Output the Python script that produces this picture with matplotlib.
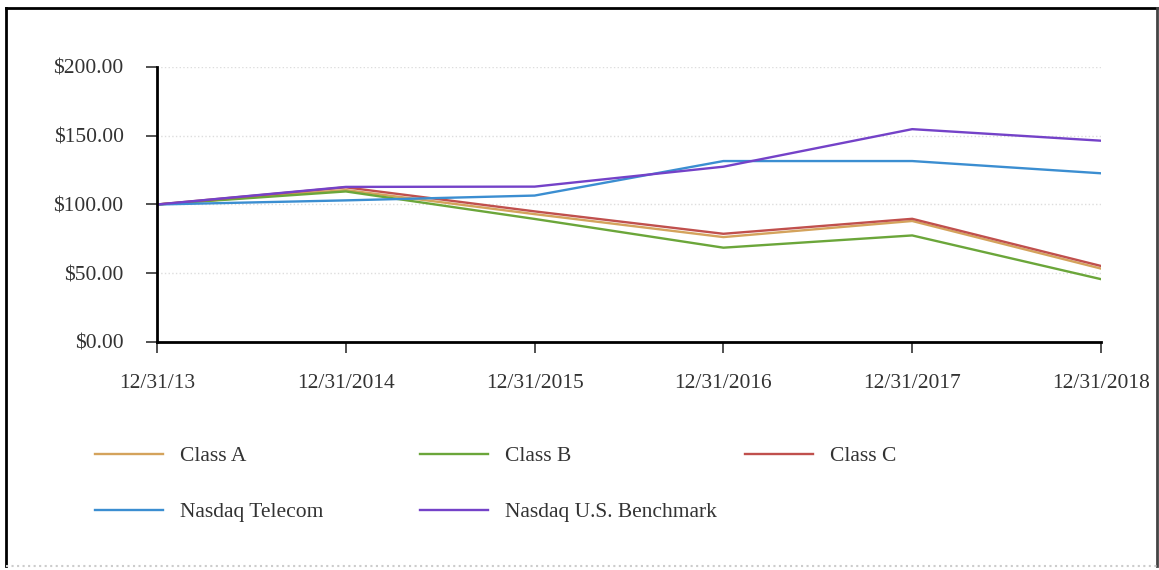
import matplotlib.pyplot as plt
from matplotlib.lines import Line2D

# data
dates = ["12/31/13", "12/31/2014", "12/31/2015", "12/31/2016", "12/31/2017", "12/31/2018"]
class_a = [100, 110.5, 93, 76.3, 88, 53.4]
class_b = [100, 109.5, 89.5, 68.6, 77.5, 45.7]
class_c = [100, 112.5, 95, 78.7, 89.6, 55.3]
telecom = [100, 103, 106.5, 131.6, 131.6, 122.7]
benchmark = [100, 112.8, 113, 127.5, 154.8, 146.4]
yticks = [0, 50, 100, 150, 200]

plt.rcParams['font.family'] = ['Liberation Serif', 'DejaVu Serif']
FS = 15.5

fig = plt.figure(figsize=(11.59, 5.70), dpi=100)
ax = fig.add_axes([157/1159, 1 - 342/570, (1101-157)/1159, (342-67)/570])

x = list(range(len(dates)))
l_a, = ax.plot(x, class_a, color="#D4A35C", lw=1.7, label="Class A")
l_b, = ax.plot(x, class_b, color="#6BA63A", lw=1.7, label="Class B")
l_c, = ax.plot(x, class_c, color="#C0504D", lw=1.7, label="Class C")
l_t, = ax.plot(x, telecom, color="#3B8ED1", lw=1.7, label="Nasdaq Telecom")
l_n, = ax.plot(x, benchmark, color="#7442C8", lw=1.7, label="Nasdaq U.S. Benchmark")

ax.set_xlim(0, len(dates) - 1)
ax.set_ylim(0, 200)
ax.set_xticks(x)
ax.set_xticklabels(dates)
ax.set_yticks(yticks)
ax.set_yticklabels(["$%.2f" % v for v in yticks])
ax.yaxis.grid(True, color="#dddddd", ls=":", lw=1)
ax.set_axisbelow(True)
for s in ["top", "right"]:
    ax.spines[s].set_visible(False)
ax.spines["left"].set_linewidth(2)
ax.spines["bottom"].set_linewidth(2)
ax.tick_params(axis="both", direction="out", length=8, width=1.2, labelsize=FS,
               labelcolor="#333333", color="#333333")
ax.tick_params(axis="x", pad=15)
ax.tick_params(axis="y", pad=16)

# legend in three fixed columns
cols = [([l_a, l_t], 95), ([l_b, l_n], 420), ([l_c], 745)]
for hs, px in cols:
    leg = fig.legend(handles=hs, labels=[h.get_label() for h in hs],
                     loc="upper left", bbox_to_anchor=(px/1159, 1 - 446/570),
                     frameon=False, fontsize=FS, handlelength=3.16,
                     handletextpad=0.79, labelspacing=1.67, borderpad=0, borderaxespad=0)
    for t in leg.get_texts():
        t.set_color("#333333")

# outer frame
fig.add_artist(Line2D([6/1159, 6/1159], [1 - 8/570, 1 - 566/570], color="black", lw=2, transform=fig.transFigure))
fig.add_artist(Line2D([6/1159, 1157/1159], [1 - 8/570, 1 - 8/570], color="black", lw=2, transform=fig.transFigure))
fig.add_artist(Line2D([1157/1159, 1157/1159], [1 - 8/570, 1 - 566/570], color="#444444", lw=2, transform=fig.transFigure))
fig.add_artist(Line2D([6/1159, 1157/1159], [1 - 566/570, 1 - 566/570], color="#cccccc", lw=1.5, ls=":", transform=fig.transFigure))

fig.savefig("out.png", dpi=100)
